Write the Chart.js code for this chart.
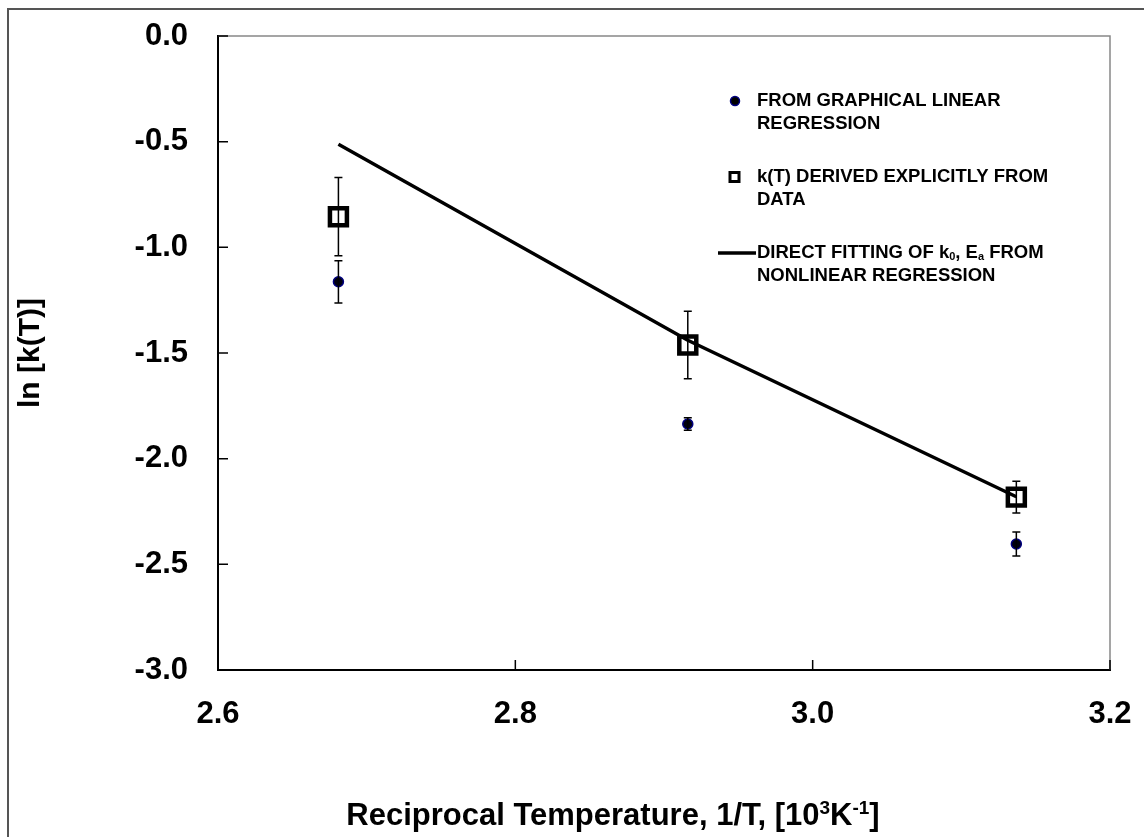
<!DOCTYPE html>
<html>
<head>
<meta charset="utf-8">
<script src="https://cdn.jsdelivr.net/npm/chart.js@4.4.1/dist/chart.umd.min.js"></script>
<style>
  html, body { margin: 0; padding: 0; background: #fff; }
  #wrap { width: 1144px; height: 837px; }
</style>
</head>
<body>
<div id="wrap"><canvas id="arrhenius" width="1144" height="837"></canvas></div>
<script>
// reciprocal temperature, 10^3/K
const recipT = [2.681, 2.916, 3.137];
// ln k from graphical linear regression (+/- error)
const lnkGraphical = [-1.163, -1.836, -2.404];
const errGraphical = [0.10, 0.03, 0.057];
// ln k derived explicitly from data (+/- error)
const lnkExplicit = [-0.855, -1.462, -2.182];
const errExplicit = [0.185, 0.16, 0.075];
// direct nonlinear fit of k0, Ea
const fitX = [2.681, 2.916, 3.137];
const fitY = [-0.512, -1.44, -2.18];

const xTicks = [2.6, 2.8, 3.0, 3.2];
const yTicks = [0.0, -0.5, -1.0, -1.5, -2.0, -2.5, -3.0];

const legendText = [
  [[["FROM GRAPHICAL LINEAR", "n"]], [["REGRESSION", "n"]]],
  [[["k(T) DERIVED EXPLICITLY FROM", "n"]], [["DATA", "n"]]],
  [[["DIRECT FITTING OF k", "n"], ["0", "sub"], [", E", "n"], ["a", "sub"], [" FROM", "n"]], [["NONLINEAR REGRESSION", "n"]]]
];
const xTitle = [["Reciprocal Temperature, 1/T, [10", "n"], ["3", "sup"], ["K", "n"], ["-1", "sup"], ["]", "n"]];

const FAMILY = '"Liberation Sans", Arial, Helvetica, sans-serif';

function fontFor(kind, size) {
  const s = kind === "n" ? size : Math.round(size * 0.62);
  return "bold " + s + "px " + FAMILY;
}

function drawRich(ctx, segs, x, y, size, align) {
  const widths = segs.map(([t, k]) => { ctx.font = fontFor(k, size); return ctx.measureText(t).width; });
  const total = widths.reduce((a, b) => a + b, 0);
  let cx = align === "center" ? x - total / 2 : x;
  segs.forEach(([t, k], i) => {
    ctx.font = fontFor(k, size);
    let dy = 0;
    if (k === "sup") dy = -size * 0.36;
    if (k === "sub") dy = size * 0.2;
    ctx.fillText(t, cx, y + dy);
    cx += widths[i];
  });
}

const frame = {
  id: "frame",
  beforeDraw(chart) {
    const ctx = chart.ctx;
    ctx.save();
    ctx.strokeStyle = "#555";
    ctx.lineWidth = 2;
    ctx.strokeRect(8, 9, 1200, 900);
    ctx.restore();
  },
  afterDraw(chart) {
    const { ctx, chartArea: a, scales: { x, y } } = chart;
    ctx.save();
    // top and right border of plot area
    ctx.strokeStyle = "#888";
    ctx.lineWidth = 1.5;
    ctx.beginPath();
    ctx.moveTo(a.left, a.top);
    ctx.lineTo(a.right, a.top);
    ctx.lineTo(a.right, a.bottom);
    ctx.stroke();
    // inward ticks
    ctx.strokeStyle = "#000";
    ctx.lineWidth = 1.5;
    ctx.beginPath();
    xTicks.forEach(v => {
      const px = x.getPixelForValue(v);
      ctx.moveTo(px, a.bottom);
      ctx.lineTo(px, a.bottom - 10);
    });
    yTicks.forEach(v => {
      const py = y.getPixelForValue(v);
      ctx.moveTo(a.left, py);
      ctx.lineTo(a.left + 10, py);
    });
    ctx.stroke();

    // x axis title with superscripts
    ctx.fillStyle = "#000";
    ctx.textBaseline = "alphabetic";
    drawRich(ctx, xTitle, a.left + 395, 825, 31, "center");
    ctx.restore();
  }
};

const errorBars = {
  id: "errorBars",
  afterDatasetsDraw(chart) {
    const { ctx, scales: { x, y } } = chart;
    ctx.save();
    ctx.strokeStyle = "#000";
    ctx.lineWidth = 1.5;
    [[lnkGraphical, errGraphical], [lnkExplicit, errExplicit]].forEach(([vals, errs]) => {
      vals.forEach((v, i) => {
        const px = x.getPixelForValue(recipT[i]);
        const top = y.getPixelForValue(v + errs[i]);
        const bot = y.getPixelForValue(v - errs[i]);
        ctx.beginPath();
        ctx.moveTo(px, top); ctx.lineTo(px, bot);
        ctx.moveTo(px - 4, top); ctx.lineTo(px + 4, top);
        ctx.moveTo(px - 4, bot); ctx.lineTo(px + 4, bot);
        ctx.stroke();
      });
    });
    ctx.restore();
  }
};

const legendBox = {
  id: "legendBox",
  afterDraw(chart) {
    const { ctx, chartArea: a } = chart;
    const mx = a.left + 517;
    const tx = a.left + 539;
    const rows = [a.top + 65, a.top + 141, a.top + 217];
    ctx.save();
    // circle
    ctx.beginPath();
    ctx.arc(mx, rows[0], 4.5, 0, Math.PI * 2);
    ctx.fillStyle = "#000";
    ctx.fill();
    ctx.strokeStyle = "#000080";
    ctx.lineWidth = 1.5;
    ctx.stroke();
    // square
    ctx.strokeStyle = "#000";
    ctx.lineWidth = 3;
    ctx.strokeRect(mx - 5, rows[1] - 4.5, 9, 9);
    // line
    ctx.lineWidth = 3.5;
    ctx.beginPath();
    ctx.moveTo(mx - 17, rows[2]);
    ctx.lineTo(tx - 1, rows[2]);
    ctx.stroke();

    ctx.fillStyle = "#000";
    ctx.textBaseline = "middle";
    legendText.forEach((lines, i) => {
      lines.forEach((segs, j) => {
        drawRich(ctx, segs, tx, rows[i] + j * 22.5, 18.5, "left");
      });
    });
    ctx.restore();
  }
};

const tickFont = { family: FAMILY, size: 31, weight: "bold" };

new Chart(document.getElementById("arrhenius"), {
  type: "scatter",
  data: {
    datasets: [
      {
        label: "FROM GRAPHICAL LINEAR REGRESSION",
        data: recipT.map((t, i) => ({ x: t, y: lnkGraphical[i] })),
        pointStyle: "circle",
        pointRadius: 5,
        backgroundColor: "#000010",
        borderColor: "#000080",
        borderWidth: 1.5,
        order: 1
      },
      {
        label: "k(T) DERIVED EXPLICITLY FROM DATA",
        data: recipT.map((t, i) => ({ x: t, y: lnkExplicit[i] })),
        pointStyle: "rect",
        pointRadius: 12,
        backgroundColor: "rgba(0,0,0,0)",
        borderColor: "#000",
        borderWidth: 4.5,
        order: 2
      },
      {
        type: "line",
        label: "DIRECT FITTING OF k0, Ea FROM NONLINEAR REGRESSION",
        data: fitX.map((t, i) => ({ x: t, y: fitY[i] })),
        borderColor: "#000",
        borderWidth: 3.5,
        pointRadius: 0,
        fill: false,
        tension: 0,
        order: 3
      }
    ]
  },
  options: {
    responsive: false,
    animation: false,
    devicePixelRatio: 1,
    layout: { padding: { left: 0, top: 36, right: 34, bottom: 0 } },
    plugins: {
      legend: { display: false },
      tooltip: { enabled: false }
    },
    scales: {
      x: {
        type: "linear",
        min: 2.6,
        max: 3.2,
        afterBuildTicks: s => { s.ticks = xTicks.map(v => ({ value: v })); },
        afterFit: s => { s.height = 167; },
        ticks: {
          callback: v => Number(v).toFixed(1),
          font: tickFont,
          color: "#000",
          padding: 2,
          maxRotation: 0
        },
        grid: { display: false, drawTicks: true, tickLength: 24 },
        border: { display: true, color: "#000", width: 2 }
      },
      y: {
        type: "linear",
        min: -3,
        max: 0,
        afterBuildTicks: s => { s.ticks = yTicks.map(v => ({ value: v })); },
        afterFit: s => { s.width = 218; },
        ticks: {
          callback: v => Number(v).toFixed(1),
          font: tickFont,
          color: "#000",
          padding: 2
        },
        grid: { display: false, drawTicks: true, tickLength: 28 },
        border: { display: true, color: "#000", width: 2 },
        title: {
          display: true,
          text: "ln [k(T)]",
          color: "#000",
          font: { family: FAMILY, size: 30, weight: "bold", lineHeight: 1 },
          padding: { top: 16, bottom: 0 }
        }
      }
    }
  },
  plugins: [frame, errorBars, legendBox]
});
</script>
</body>
</html>
